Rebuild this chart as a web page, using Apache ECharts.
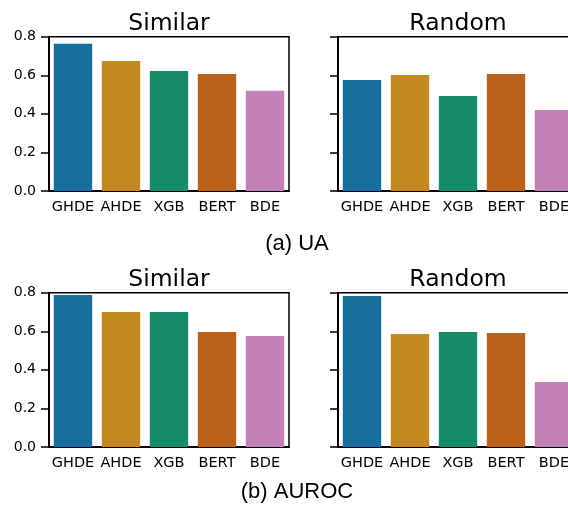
<!DOCTYPE html>
<html>
<head>
<meta charset="utf-8">
<script src="https://cdn.jsdelivr.net/npm/echarts@6/dist/echarts.min.js"></script>
<style>html,body{margin:0;padding:0;background:#fff}#c{width:568px;height:505px}</style>
</head>
<body>
<div id="c"></div>
<script>
const categories = ['GHDE', 'AHDE', 'XGB', 'BERT', 'BDE'];
const uaSimilar = [0.764, 0.674, 0.622, 0.606, 0.520];
const uaRandom = [0.575, 0.601, 0.492, 0.606, 0.420];
const aurocSimilar = [0.788, 0.700, 0.700, 0.596, 0.575];
const aurocRandom = [0.783, 0.586, 0.596, 0.591, 0.337];
const panelTitles = ['Similar', 'Random', 'Similar', 'Random'];
const captions = ['(a) UA', '(b) AUROC'];
const palette = ['#176D9C', '#C38820', '#168B6A', '#BA611B', '#C282B6'];

const seriesData = [uaSimilar, uaRandom, aurocSimilar, aurocRandom];
const grids = [
  {left: 49, top: 36.7, width: 240, height: 154.3},
  {left: 338, top: 36.7, width: 240, height: 154.3},
  {left: 49, top: 292.7, width: 240, height: 154.3},
  {left: 338, top: 292.7, width: 240, height: 154.3}
];
const FONT = 'DejaVu Sans';

const option = {
  animation: false,
  backgroundColor: '#fff',
  color: palette,
  grid: grids.map(g => Object.assign({show: true, borderColor: '#000', borderWidth: 1.5, backgroundColor: 'transparent',
    containLabel: false, outerBoundsMode: 'none'}, g)),
  xAxis: grids.map((g, i) => ({
    type: 'category', gridIndex: i, data: categories,
    axisLine: {lineStyle: {color: '#000', width: 2}},
    axisTick: {alignWithLabel: true, length: 7, lineStyle: {color: '#000', width: 1.5}},
    axisLabel: {interval: 0, hideOverlap: false, color: '#000', fontFamily: FONT, fontSize: 14.5, margin: 9}
  })),
  yAxis: grids.map((g, i) => ({
    type: 'value', gridIndex: i, min: 0, max: 0.8, interval: 0.2,
    splitLine: {show: false},
    axisLine: {show: true, lineStyle: {color: '#000', width: 2}},
    axisTick: {show: true, length: 8, lineStyle: {color: '#000', width: 1.5}},
    axisLabel: {show: i % 2 === 0, color: '#000', fontFamily: FONT, fontSize: 14, margin: 13,
      formatter: v => v.toFixed(1)}
  })),
  series: seriesData.map((d, i) => ({
    type: 'bar', xAxisIndex: i, yAxisIndex: i, data: d,
    colorBy: 'data', barCategoryGap: '20%'
  })),
  graphic: [
    ...grids.map((g, i) => ({
      type: 'text', x: g.left + g.width / 2, y: g.top - 13,
      style: {text: panelTitles[i], fontFamily: FONT, fontSize: 23.5, fill: '#000', align: 'center', verticalAlign: 'middle'}
    })),
    {type: 'text', x: 297, y: 244, style: {text: captions[0], fontFamily: 'Liberation Sans', fontSize: 22, fill: '#000', align: 'center', verticalAlign: 'middle'}},
    {type: 'text', x: 297, y: 492, style: {text: captions[1], fontFamily: 'Liberation Sans', fontSize: 22, fill: '#000', align: 'center', verticalAlign: 'middle'}}
  ]
};
echarts.init(document.getElementById('c'), null, {renderer: 'canvas'}).setOption(option);
</script>
</body>
</html>
